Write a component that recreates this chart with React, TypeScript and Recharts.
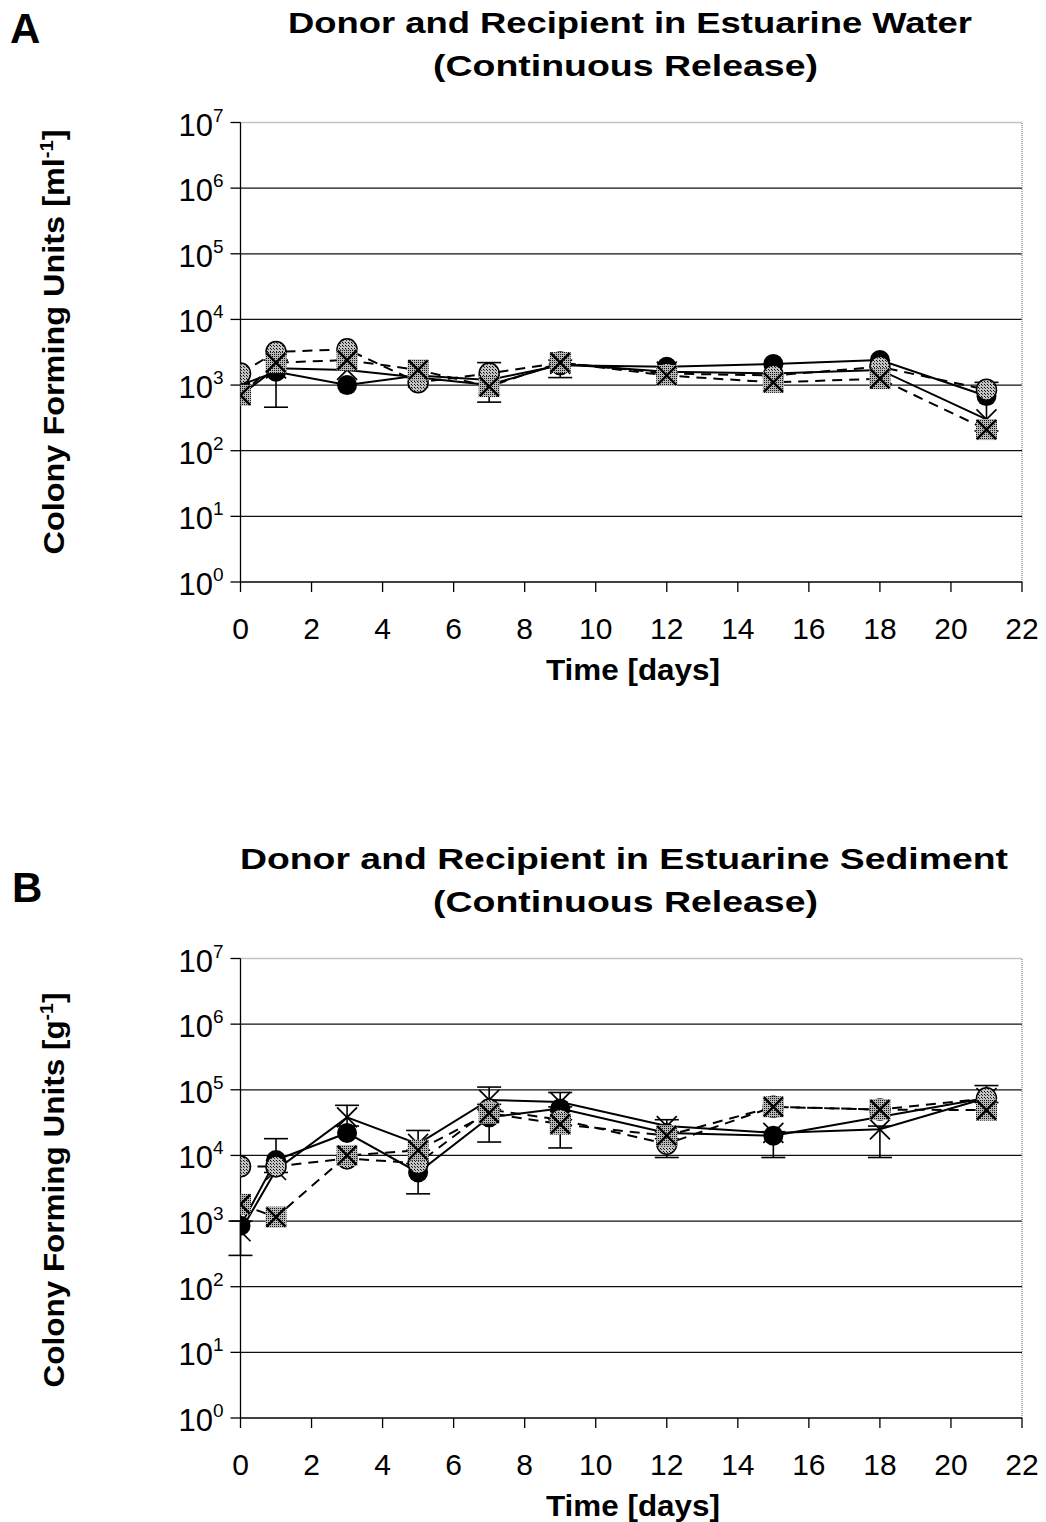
import React from "react";
import { LineChart, Line, XAxis, YAxis, ReferenceLine, ErrorBar } from "recharts";

// ---------- data ----------
const days = [0, 1, 3, 5, 7, 9, 12, 15, 18, 21];
const xTicks = [0, 2, 4, 6, 8, 10, 12, 14, 16, 18, 20, 22];
const yTicks = [1, 10, 100, 1000, 10000, 100000, 1000000, 10000000];
const gridValues = [10, 100, 1000, 10000, 100000, 1000000];

type Err = [number, number] | null;

// Panel A: estuarine water
const waterDonor = [1000, 1600, 1000, 1400, 1200, 2000, 1900, 2100, 2400, 680];
const waterRecipient = [700, 1800, 1700, 1300, 1000, 2100, 1600, 1500, 1700, 300];
const waterGrayCircle = [1500, 3200, 3500, 1100, 1500, 2200, 1500, 1400, 1900, 850];
const waterSquare = [700, 2200, 2400, 1700, 950, 2200, 1400, 1100, 1250, 210];
const waterRecipientErr: Err[] = [null, [1340, 600], null, null, [450, 1200], [800, 300], null, null, null, [100, 800]];

// Panel B: estuarine sediment
const sedDonor = [850, 8500, 22000, 5500, 38000, 52000, 22000, 20000, null, 75000];
const sedRecipient = [700, 6000, 38000, 15000, 70000, 65000, 28000, 22000, 25000, 75000];
const sedGrayCircle = [6800, 6800, 9000, 7600, 50000, 35000, 15000, 55000, 50000, 74000];
const sedSquare = [1800, 1150, 10000, 12000, 44000, 30000, 20000, 55000, 50000, 49000];
const sedDonorErr: Err[] = [null, [3000, 9500], null, [2900, 2000], null, null, null, [10700, 3000], null, null];
const sedRecipientErr: Err[] = [[400, 300], null, [10000, 20000], [3000, 9000], [20000, 40000], [10000, 26000], [5000, 7000], null, [15700, 3000], null];
const sedGrayErr: Err[] = [null, null, null, null, [34000, 10000], null, [5700, 3000], null, null, [10000, 42000]];
const sedSquareErr: Err[] = [null, null, null, null, null, [17000, 5000], null, null, null, null];

const FONT = "'Liberation Sans', Arial, Helvetica, sans-serif";

function buildRows(
  donor: (number | null)[],
  recip: (number | null)[],
  gray: (number | null)[],
  square: (number | null)[],
  donorErr: Err[] | null,
  recipErr: Err[] | null,
  grayErr: Err[] | null,
  squareErr: Err[] | null
) {
  return days.map((d, i) => ({
    day: d,
    donor: donor[i],
    recip: recip[i],
    gray: gray[i],
    square: square[i],
    donorErr: donorErr ? donorErr[i] : null,
    recipErr: recipErr ? recipErr[i] : null,
    grayErr: grayErr ? grayErr[i] : null,
    squareErr: squareErr ? squareErr[i] : null,
  }));
}

const waterRows = buildRows(waterDonor, waterRecipient, waterGrayCircle, waterSquare, null, waterRecipientErr, null, null);
const sedRows = buildRows(sedDonor, sedRecipient, sedGrayCircle, sedSquare, sedDonorErr, sedRecipientErr, sedGrayErr, sedSquareErr);

// ---------- markers ----------
const makeDot = (kind: string) => (props: any) => {
  const { cx, cy, index, value } = props;
  const key = `${kind}-${index}`;
  if (cx == null || cy == null || value == null || isNaN(cy)) return <g key={key} />;
  if (kind === "black") return <circle key={key} cx={cx} cy={cy} r={10} fill="#000" />;
  if (kind === "gray")
    return <ellipse key={key} cx={cx} cy={cy} rx={10} ry={10.5} fill="url(#hatch)" stroke="#000" strokeWidth={1.5} />;
  if (kind === "square")
    return (
      <g key={key}>
        <rect x={cx - 10.5} y={cy - 10.5} width={21} height={21} fill="url(#hatch2)" />
        <line x1={cx - 9.5} y1={cy - 9.5} x2={cx + 9.5} y2={cy + 9.5} stroke="#000" strokeWidth={2.4} />
        <line x1={cx - 9.5} y1={cy + 9.5} x2={cx + 9.5} y2={cy - 9.5} stroke="#000" strokeWidth={2.4} />
      </g>
    );
  return (
    <g key={key}>
      <line x1={cx - 10} y1={cy - 10} x2={cx + 10} y2={cy + 10} stroke="#000" strokeWidth={1.7} />
      <line x1={cx - 10} y1={cy + 10} x2={cx + 10} y2={cy - 10} stroke="#000" strokeWidth={1.7} />
    </g>
  );
};

const YTick = (props: any) => {
  const { x, y, payload } = props;
  const exp = Math.round(Math.log10(payload.value));
  return (
    <text x={x - 7} y={y + 13} textAnchor="end" fontFamily={FONT} fontSize={31} fill="#000">
      <tspan>10</tspan>
      <tspan dy={-14} fontSize={19}>{exp}</tspan>
    </text>
  );
};

const XTick = (props: any) => {
  const { x, y, payload } = props;
  return (
    <text x={x} y={y + 47} textAnchor="middle" fontFamily={FONT} fontSize={30} fill="#000">
      {payload.value}
    </text>
  );
};

function Panel({ rows }: { rows: any[] }) {
  return (
    <LineChart
      width={1046}
      height={700}
      data={rows}
      margin={{ top: 122.5, right: 24, bottom: 58, left: 140.5 }}
    >
      <XAxis
        type="number"
        dataKey="day"
        domain={[0, 22]}
        ticks={xTicks}
        allowDataOverflow
        height={60}
        tickSize={10}
        tickMargin={0}
        axisLine={{ stroke: "#000", strokeWidth: 1.3 }}
        tickLine={{ stroke: "#000", strokeWidth: 1.3 }}
        tick={<XTick />}
      />
      <YAxis
        type="number"
        scale="log"
        domain={[1, 10000000]}
        ticks={yTicks}
        allowDataOverflow
        width={100}
        tickSize={10}
        tickMargin={0}
        axisLine={{ stroke: "#000", strokeWidth: 1.3 }}
        tickLine={{ stroke: "#000", strokeWidth: 1.3 }}
        tick={<YTick />}
      />
      {gridValues.map((v) => (
        <ReferenceLine key={v} y={v} stroke="#111" strokeWidth={1.3} />
      ))}
      <ReferenceLine y={10000000} stroke="#888" strokeWidth={1.3} strokeDasharray="1 1" />
      <ReferenceLine x={22} stroke="#888" strokeWidth={1.3} strokeDasharray="1 1" />
      <Line
        dataKey="donor"
        stroke="#000"
        strokeWidth={2}
        isAnimationActive={false}
        connectNulls
        dot={makeDot("black")}
        activeDot={false}
      >
        <ErrorBar dataKey="donorErr" width={12} stroke="#000" strokeWidth={1.6} direction="y" />
      </Line>
      <Line
        dataKey="recip"
        stroke="#000"
        strokeWidth={2}
        isAnimationActive={false}
        connectNulls
        dot={makeDot("x")}
        activeDot={false}
      >
        <ErrorBar dataKey="recipErr" width={12} stroke="#000" strokeWidth={1.6} direction="y" />
      </Line>
      <Line
        dataKey="gray"
        stroke="#000"
        strokeWidth={2}
        strokeDasharray="10 7"
        isAnimationActive={false}
        connectNulls
        dot={makeDot("gray")}
        activeDot={false}
      >
        <ErrorBar dataKey="grayErr" width={12} stroke="#000" strokeWidth={1.6} direction="y" />
      </Line>
      <Line
        dataKey="square"
        stroke="#000"
        strokeWidth={2}
        strokeDasharray="10 7"
        isAnimationActive={false}
        connectNulls
        dot={makeDot("square")}
        activeDot={false}
      >
        <ErrorBar dataKey="squareErr" width={12} stroke="#000" strokeWidth={1.6} direction="y" />
      </Line>
    </LineChart>
  );
}

export default function App() {
  return (
    <div style={{ position: "absolute", left: 0, top: 0, width: 1046, height: 1522, background: "#fff", overflow: "hidden" }}>
      <svg width={0} height={0} style={{ position: "absolute" }}>
        <defs>
          <pattern id="hatch" width={3} height={3} patternUnits="userSpaceOnUse">
            <rect x={0} y={0} width={3} height={3} fill="#c4c4c4" />
            <rect x={0} y={0} width={1} height={1} fill="#000" />
            <rect x={1} y={1} width={1} height={1} fill="#333" />
          </pattern>
          <pattern id="hatch2" width={2} height={2} patternUnits="userSpaceOnUse">
            <rect x={0} y={0} width={2} height={2} fill="#b8b8b8" />
            <rect x={0} y={0} width={1} height={1} fill="#111" />
          </pattern>
        </defs>
      </svg>
      <div style={{ position: "absolute", left: 0, top: 0 }}>
        <Panel rows={waterRows} />
      </div>
      <div style={{ position: "absolute", left: 0, top: 836 }}>
        <Panel rows={sedRows} />
      </div>
      <svg width={1046} height={1522} style={{ position: "absolute", left: 0, top: 0, pointerEvents: "none" }} fontFamily={FONT}>
        {/* Panel A text */}
        <text x={10} y={43} fontSize={42} fontWeight="bold">A</text>
        <text x={630} y={33} fontSize={30} fontWeight="bold" textAnchor="middle" textLength={684} lengthAdjust="spacingAndGlyphs">
          Donor and Recipient in Estuarine Water
        </text>
        <text x={625.5} y={76} fontSize={30} fontWeight="bold" textAnchor="middle" textLength={385} lengthAdjust="spacingAndGlyphs">
          (Continuous Release)
        </text>
        <text x={633} y={680} fontSize={29} fontWeight="bold" textAnchor="middle" textLength={174} lengthAdjust="spacingAndGlyphs">
          Time [days]
        </text>
        <text
          transform="translate(64,342) rotate(-90)"
          x={0}
          y={0}
          fontSize={29}
          fontWeight="bold"
          textAnchor="middle"
          textLength={425}
          lengthAdjust="spacingAndGlyphs"
        >
          Colony Forming Units [ml<tspan dy={-11} fontSize={18}>-1</tspan><tspan dy={11}>]</tspan>
        </text>

        {/* Panel B text */}
        <text x={12} y={902} fontSize={42} fontWeight="bold">B</text>
        <text x={624} y={869} fontSize={30} fontWeight="bold" textAnchor="middle" textLength={768} lengthAdjust="spacingAndGlyphs">
          Donor and Recipient in Estuarine Sediment
        </text>
        <text x={625.5} y={912} fontSize={30} fontWeight="bold" textAnchor="middle" textLength={385} lengthAdjust="spacingAndGlyphs">
          (Continuous Release)
        </text>
        <text x={633} y={1516} fontSize={29} fontWeight="bold" textAnchor="middle" textLength={174} lengthAdjust="spacingAndGlyphs">
          Time [days]
        </text>
        <text
          transform="translate(64,1190) rotate(-90)"
          x={0}
          y={0}
          fontSize={29}
          fontWeight="bold"
          textAnchor="middle"
          textLength={395}
          lengthAdjust="spacingAndGlyphs"
        >
          Colony Forming Units [g<tspan dy={-11} fontSize={18}>-1</tspan><tspan dy={11}>]</tspan>
        </text>
      </svg>
    </div>
  );
}
